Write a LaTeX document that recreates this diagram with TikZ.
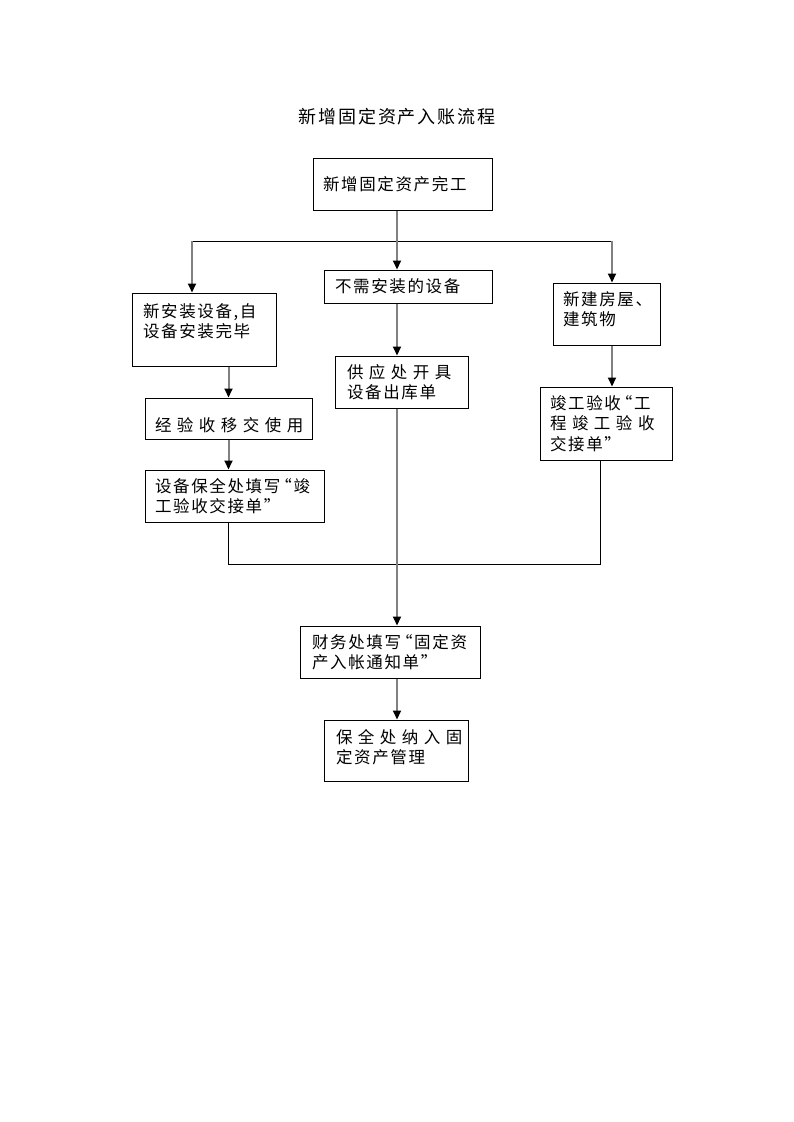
\documentclass[tikz,border=0pt]{standalone}
\usepackage{fontspec}
\setmainfont{Noto Sans CJK SC}[LetterSpace=10]
\usetikzlibrary{arrows.meta}
\newcommand\dpt[1]{\rule[-#1pt]{0pt}{0pt}}
\newcommand\hpt[1]{\rule{0pt}{#1pt}}
\newcommand\myopq{\kern-5pt“}
\begin{document}
\begin{tikzpicture}[x=1pt,y=-1pt,
  box/.style={draw,line width=1pt,inner ysep=0pt,align=left,font=\fontsize{16.5}{20.5}\selectfont},
  arr/.style={draw={rgb,255:red,128;green,128;blue,128},line width=2pt,-{Triangle[width=8pt,length=9pt,color=black,fill=black]}},
  link/.style={draw=black,line width=1pt}]
\useasboundingbox (0,0) rectangle (793,1122);
\node[font=\fontsize{18}{22}\selectfont\addfontfeature{LetterSpace=10}] (T) at (397,117) {新增固定资产入账流程};
\node[box,minimum width=179pt,minimum height=52pt,text width=159pt,inner xsep=10pt] (A) at (402.5,184) {新增固定资产完工};
\node[box,minimum width=168pt,minimum height=33pt,text width=146pt,inner xsep=11pt] (B) at (408,286.5) {不需安装的设备};
\node[box,minimum width=144pt,minimum height=73pt,text width=122pt,inner xsep=11pt] (L1) at (204,329.5) {新安装设备,自\\设备安装完毕\dpt{18}};
\node[box,minimum width=107pt,minimum height=62pt,text width=87pt,inner xsep=10pt] (R1) at (606.5,314) {新建房屋、\\建筑物\dpt{11}};
\node[box,minimum width=133pt,minimum height=52pt,text width=109pt,inner xsep=12pt] (B2) at (401.5,382) {\makebox[108pt][s]{供 应 处 开 具}\\设备出库单};
\node[box,minimum width=167pt,minimum height=41pt,text width=147pt,inner xsep=10pt] (L2) at (228.5,418.5) {\hpt{27}\makebox[147pt][s]{经 验 收 移 交 使 用}};
\node[box,minimum width=132pt,minimum height=73pt,text width=112pt,inner xsep=10pt] (R2) at (606,423.5) {竣工验收\myopq 工\\\makebox[112pt][s]{程 竣 工 验 收}\\交接单”};
\node[box,minimum width=179pt,minimum height=52pt,text width=159pt,inner xsep=10pt] (L3) at (234.5,496) {设备保全处填写\myopq 竣\\工验收交接单”};
\node[box,minimum width=180pt,minimum height=52pt,text width=156pt,inner xsep=12pt] (F) at (390,652) {财务处填写\myopq 固定资\\产入帐通知单”};
\node[box,minimum width=144pt,minimum height=61pt,text width=120pt,inner xsep=12pt] (G) at (396,750.5) {\makebox[120pt][s]{保 全 处 纳 入 固}\\定资产管理\dpt{8}};
\coordinate (jl) at (192,241);
\coordinate (jm) at (397,241);
\coordinate (jr) at (612,241);
\coordinate (jb) at (600,564);
\draw[link] (jl) -- (jr);
\draw[link] (L3.south -| L2.south) |- (jb) -- (jb |- R2.south);
\draw[arr] (A.south -| jm) -- (B.north -| jm);
\draw[arr] (jl) -- (jl |- L1.north);
\draw[arr] (jr) -- (jr |- R1.north);
\draw[arr] (L2.north |- L1.south) -- (L2.north);
\draw[arr] (L2.south) -- (L2.south |- L3.north);
\draw[arr] (jr |- R1.south) -- (jr |- R2.north);
\draw[arr] (B.south -| jm) -- (B2.north -| jm);
\draw[arr] (B2.south -| jm) -- (F.north -| jm);
\draw[arr] (F.south -| jm) -- (G.north -| jm);
\end{tikzpicture}
\end{document}
